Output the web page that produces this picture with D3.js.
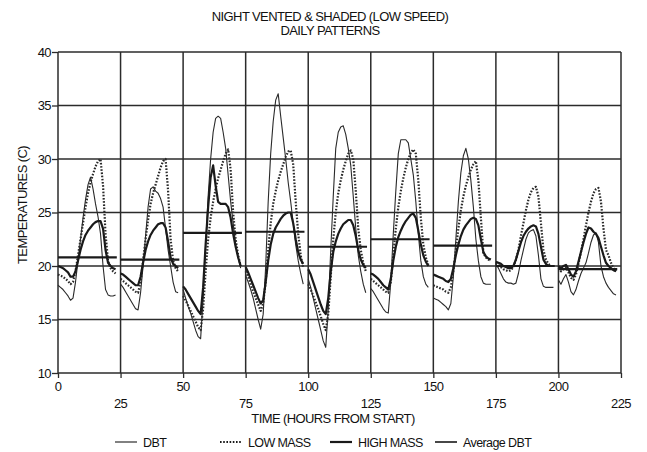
<!DOCTYPE html>
<html lang="en">
<head>
<meta charset="UTF-8">
<title>Night vented & shaded</title>
<script src="https://cdn.jsdelivr.net/npm/d3@7/dist/d3.min.js"></script>
<style>
  body { margin: 0; background: #fff; }
  text { font-family: "Liberation Sans", Arial, sans-serif; fill: #111; letter-spacing: -0.6px; }
</style>
</head>
<body>
<div id="chart"></div>
<script>
// hours within each day, and the start hour of each day on the axis
let hours = d3.range(0, 24)
let dayStart = [0, 25, 50, 75, 100, 125, 150, 175, 200]
let xTicks = [0, 25, 50, 75, 100, 125, 150, 175, 200, 225]
let yTicks = [10, 15, 20, 25, 30, 35, 40]

// DBT, hourly, one row per day
let dbt = [
  [18.2,18.0,17.8,17.5,17.2,16.8,17.0,18.5,20.5,22.5,24.5,26.2,27.6,28.3,27.2,25.8,24.6,23.0,20.0,17.8,17.3,17.2,17.2,17.3],
  [18.3,18.0,17.6,17.2,16.8,16.4,16.0,15.9,17.5,20.0,22.8,25.5,27.2,27.4,27.0,26.8,26.3,25.5,23.5,21.5,20.0,18.5,17.6,17.5],
  [17.8,17.0,16.2,15.6,14.8,14.0,13.4,13.2,17.0,22.0,26.5,30.0,32.5,33.8,34.0,33.8,32.5,31.0,28.5,26.0,24.0,22.0,20.8,19.8],
  [19.1,18.5,17.8,17.0,16.0,15.0,14.1,15.5,20.0,26.0,30.5,33.5,35.5,36.1,34.0,32.0,30.0,27.8,26.0,24.0,22.0,20.5,19.3,18.3],
  [18.8,18.0,17.0,16.0,15.0,14.0,13.0,12.4,16.0,21.5,26.5,31.0,32.5,33.0,33.1,32.3,31.0,29.4,26.5,23.5,21.0,19.5,18.3,17.5],
  [17.9,17.6,17.2,16.8,16.4,16.0,15.7,15.6,18.5,23.0,27.0,30.5,31.8,31.8,31.8,31.5,30.0,28.5,26.0,23.0,20.5,19.0,18.3,18.0],
  [17.0,16.9,16.8,16.6,16.4,16.2,15.9,16.5,19.0,22.5,26.0,28.7,30.3,31.0,30.0,28.0,25.5,22.5,20.5,19.0,18.4,18.3,18.3,18.3],
  [20.2,19.8,19.3,18.8,18.5,18.4,18.4,18.3,18.4,19.3,20.5,21.5,22.5,23.1,23.3,23.4,22.8,21.0,18.8,18.1,18.0,18.0,18.0,18.0],
  [18.7,18.3,18.8,19.2,18.5,17.6,17.3,17.8,18.6,19.3,19.8,20.3,21.2,22.2,22.9,23.1,22.2,20.0,19.0,18.4,18.0,17.7,17.4,17.3]
]

let lowMass = [
  [19.2,19.1,19.0,18.8,18.6,18.3,18.5,19.5,21.0,22.5,24.0,25.5,26.8,27.8,28.6,29.3,29.8,30.0,27.5,23.0,20.5,19.8,19.5,19.3],
  [18.8,18.6,18.4,18.2,18.0,17.8,17.6,17.5,18.5,20.5,22.5,24.3,25.8,26.8,27.6,28.4,29.2,29.8,30.0,27.0,22.5,20.5,19.8,19.5],
  [17.2,16.8,16.3,15.8,15.3,14.8,14.3,14.0,16.0,19.5,22.5,24.5,26.0,27.2,28.2,29.0,29.8,30.5,30.9,29.0,25.0,22.5,21.0,20.0],
  [19.5,19.0,18.3,17.6,17.0,16.4,15.8,16.5,18.5,21.5,24.0,25.8,27.0,28.0,28.8,29.5,30.2,30.7,30.8,29.5,26.0,23.0,21.0,19.8],
  [18.3,17.8,17.2,16.6,16.0,15.3,14.6,14.0,15.5,19.0,22.5,25.0,26.8,28.0,29.0,29.8,30.5,30.8,30.0,27.0,23.5,21.5,20.3,19.5],
  [18.8,18.6,18.4,18.2,18.0,17.8,17.6,17.5,18.5,21.0,23.5,25.5,27.0,28.2,29.2,30.0,30.6,30.9,30.5,28.0,24.5,22.0,20.8,20.1],
  [18.2,18.1,18.0,17.9,17.8,17.6,17.5,18.0,19.5,21.5,23.5,25.2,26.5,27.5,28.3,29.0,29.5,29.8,28.0,24.5,21.2,20.8,20.6,20.5],
  [20.3,20.1,19.9,19.7,19.6,19.5,19.6,19.9,20.6,21.5,22.8,24.0,25.2,26.2,26.9,27.3,27.4,26.5,24.0,21.5,20.6,20.2,20.0,20.0],
  [19.8,19.5,19.7,19.9,19.4,18.9,18.7,19.2,20.2,21.3,22.5,23.8,25.0,26.0,26.8,27.2,27.3,26.0,23.5,21.5,21.0,20.3,19.8,19.5]
]

let highMass = [
  [20.0,19.9,19.8,19.6,19.4,19.0,19.0,19.5,20.5,21.5,22.3,22.9,23.3,23.6,23.9,24.1,24.2,24.2,23.5,21.5,20.3,20.0,19.8,19.7],
  [19.3,19.2,19.0,18.8,18.6,18.4,18.2,18.2,19.0,20.3,21.5,22.3,22.9,23.3,23.6,23.9,24.0,24.0,23.6,22.3,20.8,20.2,20.0,19.8],
  [18.1,17.8,17.4,17.0,16.6,16.2,15.8,15.5,18.0,22.0,25.5,28.3,29.4,27.5,26.0,25.8,25.8,25.8,25.5,24.5,23.0,21.8,20.8,20.0],
  [19.9,19.4,18.8,18.2,17.6,17.0,16.5,16.8,18.5,20.5,22.0,23.0,23.6,24.0,24.4,24.7,24.9,25.0,25.0,24.0,22.5,21.3,20.6,20.2],
  [19.7,19.2,18.5,17.8,17.1,16.4,15.8,15.5,17.0,19.5,21.3,22.3,23.0,23.5,23.9,24.1,24.3,24.3,23.8,22.8,21.5,20.6,20.1,19.8],
  [19.3,19.2,19.0,18.8,18.5,18.2,18.0,17.8,18.8,20.5,21.8,22.7,23.3,23.8,24.2,24.5,24.8,24.9,24.5,23.3,22.0,21.0,20.4,20.0],
  [19.2,19.1,19.0,18.9,18.8,18.6,18.5,18.8,19.8,21.0,22.0,22.8,23.4,23.8,24.1,24.4,24.5,24.4,23.8,22.5,21.3,20.9,20.7,20.6],
  [20.4,20.3,20.2,20.0,19.9,19.8,19.8,20.0,20.6,21.4,22.2,22.8,23.2,23.5,23.7,23.8,23.7,23.0,21.8,20.6,20.2,20.0,20.0,20.0],
  [20.0,19.8,20.0,20.1,19.7,19.2,19.0,19.5,20.4,21.3,22.2,23.0,23.6,23.5,23.2,23.0,22.6,21.8,21.0,20.3,20.0,19.8,19.6,19.5]
]

// daily average DBT
let avgDbt = [20.8, 20.6, 23.1, 23.2, 21.8, 22.5, 21.9, 20.0, 19.7]

let width = 647, height = 452
let svg = d3.select('#chart').append('svg')
    .attr('width', width)
    .attr('height', height)

let x = d3.scaleLinear().domain([0, 225]).range([58, 621])
let y = d3.scaleLinear().domain([10, 40]).range([373, 52])

// grid
let grid = svg.append('g').attr('stroke', '#2b2b2b').attr('stroke-width', 1.5)
grid.selectAll('.vg').data(xTicks).enter().append('line')
    .attr('x1', d => x(d)).attr('x2', d => x(d))
    .attr('y1', y(40)).attr('y2', y(10))
grid.selectAll('.hg').data(yTicks).enter().append('line')
    .attr('x1', x(0)).attr('x2', x(225))
    .attr('y1', d => y(d)).attr('y2', d => y(d))

// axes (ticks only, x labels placed below in two rows)
let yAxis = svg.append('g')
    .attr('transform', 'translate(' + x(0) + ',0)')
    .call(d3.axisLeft(y).tickValues(yTicks).tickSize(6).tickPadding(1))
yAxis.select('.domain').remove()
yAxis.selectAll('line').attr('stroke', '#2b2b2b').attr('stroke-width', 1.3)
yAxis.selectAll('text').attr('font-size', 13).attr('fill', '#111')
    .style('font-family', '"Liberation Sans", Arial, sans-serif')

let xAxis = svg.append('g')
    .attr('transform', 'translate(0,' + y(10) + ')')
    .call(d3.axisBottom(x).tickValues(xTicks).tickSize(5).tickFormat(''))
xAxis.select('.domain').remove()
xAxis.selectAll('line').attr('stroke', '#2b2b2b').attr('stroke-width', 1.3)

svg.append('g').selectAll('text').data(xTicks).enter().append('text')
    .attr('x', d => x(d))
    .attr('y', (d, i) => i % 2 === 0 ? 391 : 408)
    .attr('text-anchor', 'middle')
    .attr('font-size', 13)
    .text(d => d)

// series
let line = d3.line()
    .x(d => x(d[0]))
    .y(d => y(d[1]))

function pts(arr, k) {
  return hours.map((h, i) => [dayStart[k] + h, arr[i]])
}

let plot = svg.append('g').attr('fill', 'none').attr('stroke-linejoin', 'round')

plot.selectAll('.dbt').data(dbt).enter().append('path')
    .attr('d', (d, k) => line(pts(d, k)))
    .attr('stroke', '#2a2a2a').attr('stroke-width', 1.1)

plot.selectAll('.low').data(lowMass).enter().append('path')
    .attr('d', (d, k) => line(pts(d, k)))
    .attr('stroke', '#2a2a2a').attr('stroke-width', 2.2)
    .attr('stroke-dasharray', '1.6,1.6')

plot.selectAll('.high').data(highMass).enter().append('path')
    .attr('d', (d, k) => line(pts(d, k)))
    .attr('stroke', '#1a1a1a').attr('stroke-width', 2.2)

plot.selectAll('.avg').data(avgDbt).enter().append('line')
    .attr('x1', (d, k) => x(dayStart[k]))
    .attr('x2', (d, k) => x(dayStart[k] + 23.5))
    .attr('y1', d => y(d)).attr('y2', d => y(d))
    .attr('stroke', '#1a1a1a').attr('stroke-width', 2.2)

// titles
svg.append('text').attr('x', 330).attr('y', 21).attr('text-anchor', 'middle')
    .attr('font-size', 13).text('NIGHT VENTED & SHADED (LOW SPEED)')
svg.append('text').attr('x', 330).attr('y', 35).attr('text-anchor', 'middle')
    .attr('font-size', 13).text('DAILY  PATTERNS')
svg.append('text').attr('x', 333).attr('y', 423).attr('text-anchor', 'middle')
    .attr('font-size', 13).text('TIME (HOURS FROM START)')
svg.append('text')
    .attr('transform', 'translate(27,205) rotate(-90)')
    .attr('text-anchor', 'middle')
    .attr('font-size', 13).text('TEMPERATURES (C)')

// legend
let legendItems = [
  { name: 'DBT', x: 115, w: 1.1, dash: null },
  { name: 'LOW MASS', x: 220, w: 2.2, dash: '1.6,1.6' },
  { name: 'HIGH MASS', x: 330, w: 2.2, dash: null },
  { name: 'Average DBT', x: 435, w: 1.6, dash: null }
]
let lg = svg.append('g').attr('transform', 'translate(0,442)')
lg.selectAll('line').data(legendItems).enter().append('line')
    .attr('x1', d => d.x).attr('x2', d => d.x + 22)
    .attr('y1', 0).attr('y2', 0)
    .attr('stroke', '#1a1a1a').attr('stroke-width', d => d.w)
    .attr('stroke-dasharray', d => d.dash)
lg.selectAll('text').data(legendItems).enter().append('text')
    .attr('x', d => d.x + 28).attr('y', 4.5)
    .attr('font-size', 12.5)
    .text(d => d.name)
</script>
</body>
</html>
